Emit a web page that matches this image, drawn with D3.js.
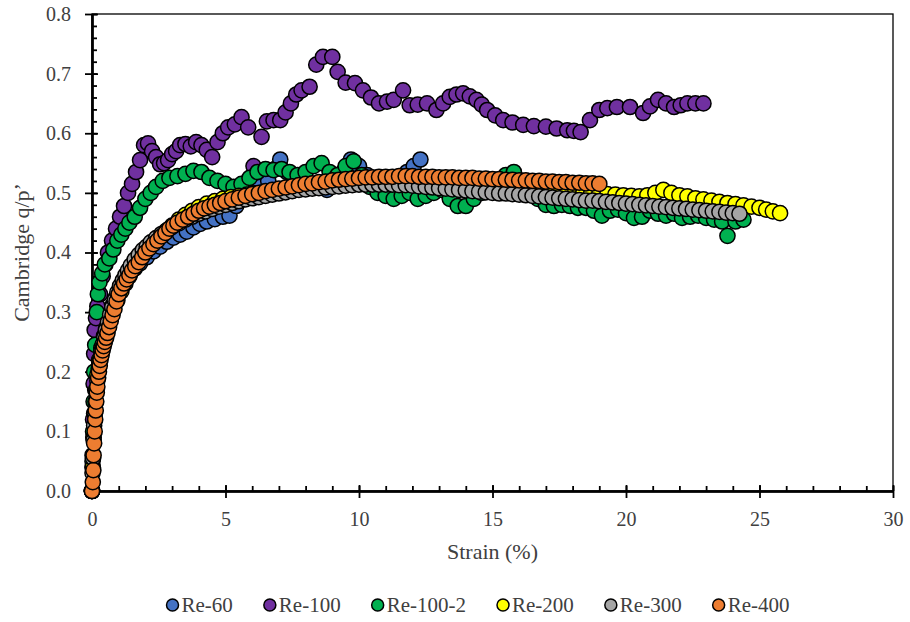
<!DOCTYPE html>
<html>
<head>
<meta charset="utf-8">
<script src="https://cdn.jsdelivr.net/npm/d3@7"></script>
<style>
  body { margin: 0; background: #fff; }
  svg { display: block; }
</style>
</head>
<body>
<svg id="chart" width="910" height="622"></svg>
<script>
// strain (%), Cambridge q/p'
const re60 = [[0,0],[0.02,0.04],[0.05,0.09],[0.08,0.13],[0.12,0.17],[0.17,0.2],[0.23,0.225],[0.3,0.245],[0.4,0.265],[0.5,0.28],[0.62,0.295],[0.75,0.31],[0.9,0.325],[1.05,0.338],[1.2,0.35],[1.4,0.362],[1.6,0.373],[1.8,0.382],[2.05,0.392],[2.3,0.402],[2.55,0.41],[2.8,0.418],[3.05,0.425],[3.3,0.43],[3.55,0.435],[3.8,0.442],[4.05,0.448],[4.3,0.452],[4.6,0.456],[4.9,0.46],[5.15,0.462],[5.4,0.478],[5.7,0.49],[6.0,0.5],[6.3,0.51],[6.6,0.52],[6.85,0.54],[7.05,0.556],[7.3,0.535],[7.6,0.525],[7.9,0.52],[8.2,0.515],[8.5,0.51],[8.8,0.505],[9.1,0.515],[9.4,0.535],[9.7,0.556],[10.0,0.545],[10.3,0.53],[10.6,0.52],[10.9,0.515],[11.2,0.518],[11.5,0.525],[11.8,0.535],[12.05,0.545],[12.3,0.556]];

const re100 = [[0,0],[0.02,0.06],[0.04,0.12],[0.06,0.18],[0.08,0.23],[0.1,0.27],[0.15,0.29],[0.2,0.31],[0.3,0.33],[0.4,0.36],[0.5,0.38],[0.6,0.4],[0.75,0.42],[0.9,0.44],[1.05,0.46],[1.2,0.478],[1.35,0.5],[1.5,0.515],[1.65,0.535],[1.8,0.555],[1.95,0.58],[2.1,0.583],[2.25,0.57],[2.4,0.56],[2.55,0.548],[2.7,0.55],[2.85,0.555],[3.0,0.565],[3.15,0.57],[3.3,0.58],[3.5,0.582],[3.7,0.578],[3.9,0.585],[4.1,0.58],[4.3,0.572],[4.5,0.56],[4.7,0.585],[4.9,0.6],[5.1,0.61],[5.35,0.615],[5.6,0.627],[5.85,0.61],[6.05,0.545],[6.35,0.594],[6.55,0.62],[6.8,0.622],[7.05,0.622],[7.25,0.635],[7.45,0.65],[7.65,0.665],[7.85,0.672],[8.15,0.678],[8.4,0.715],[8.65,0.728],[9.0,0.728],[9.2,0.703],[9.5,0.685],[9.85,0.684],[10.15,0.672],[10.45,0.66],[10.75,0.65],[11.05,0.653],[11.3,0.656],[11.65,0.672],[11.9,0.647],[12.2,0.648],[12.55,0.65],[12.9,0.639],[13.15,0.65],[13.4,0.661],[13.65,0.665],[13.9,0.667],[14.15,0.662],[14.4,0.656],[14.6,0.648],[14.8,0.639],[15.1,0.63],[15.4,0.622],[15.75,0.618],[16.15,0.614],[16.55,0.612],[17.0,0.611],[17.4,0.608],[17.8,0.605],[18.05,0.604],[18.3,0.602],[18.65,0.622],[19.0,0.639],[19.3,0.642],[19.66,0.644],[20.15,0.644],[20.64,0.634],[20.9,0.645],[21.2,0.656],[21.5,0.65],[21.8,0.644],[22.05,0.647],[22.3,0.65],[22.6,0.65],[22.9,0.65]];

const re100b = [[0,0],[0.02,0.05],[0.04,0.1],[0.06,0.15],[0.08,0.2],[0.12,0.245],[0.18,0.3],[0.22,0.33],[0.28,0.35],[0.38,0.365],[0.48,0.38],[0.65,0.39],[0.8,0.405],[0.95,0.42],[1.1,0.43],[1.25,0.44],[1.4,0.45],[1.6,0.46],[1.8,0.475],[2.0,0.49],[2.2,0.5],[2.4,0.51],[2.65,0.52],[2.9,0.525],[3.2,0.528],[3.5,0.532],[3.8,0.537],[4.1,0.535],[4.4,0.525],[4.7,0.52],[5.0,0.515],[5.3,0.51],[5.6,0.515],[5.9,0.525],[6.2,0.535],[6.5,0.54],[6.8,0.538],[7.1,0.54],[7.4,0.535],[7.7,0.53],[8.0,0.535],[8.3,0.545],[8.6,0.55],[8.9,0.535],[9.2,0.53],[9.5,0.545],[9.8,0.553],[10.1,0.53],[10.4,0.51],[10.7,0.5],[11.0,0.495],[11.3,0.49],[11.6,0.495],[11.9,0.5],[12.2,0.49],[12.5,0.495],[12.8,0.5],[13.1,0.505],[13.4,0.49],[13.7,0.478],[14.0,0.478],[14.3,0.49],[14.6,0.5],[14.9,0.51],[15.2,0.52],[15.5,0.53],[15.8,0.535],[16.1,0.52],[16.4,0.5],[16.7,0.49],[17.0,0.48],[17.3,0.478],[17.6,0.48],[17.9,0.478],[18.2,0.475],[18.5,0.475],[18.8,0.47],[19.1,0.462],[19.4,0.47],[19.7,0.472],[20.0,0.466],[20.3,0.458],[20.6,0.46],[20.9,0.47],[21.2,0.465],[21.5,0.462],[21.8,0.465],[22.1,0.458],[22.4,0.46],[22.7,0.462],[23.0,0.458],[23.3,0.455],[23.6,0.452],[23.8,0.428],[24.1,0.452],[24.4,0.455]];

const re200 = [[0,0],[0.03,0.04],[0.06,0.09],[0.1,0.13],[0.15,0.17],[0.2,0.195],[0.27,0.22],[0.35,0.24],[0.45,0.26],[0.55,0.275],[0.67,0.29],[0.8,0.305],[0.95,0.32],[1.1,0.335],[1.25,0.348],[1.4,0.36],[1.6,0.375],[1.8,0.388],[2.0,0.4],[2.25,0.413],[2.5,0.425],[2.75,0.435],[3.0,0.445],[3.25,0.455],[3.5,0.463],[3.75,0.47],[4.0,0.476],[4.3,0.482],[4.6,0.486],[4.9,0.49],[5.2,0.493],[5.5,0.495],[5.8,0.497],[6.1,0.499],[6.4,0.501],[6.7,0.503],[7.0,0.505],[7.3,0.507],[7.6,0.508],[7.9,0.51],[8.2,0.511],[8.5,0.512],[8.8,0.513],[9.1,0.514],[9.4,0.515],[9.7,0.515],[10.0,0.516],[10.3,0.516],[10.6,0.516],[10.9,0.516],[11.2,0.515],[11.5,0.515],[11.8,0.514],[12.1,0.513],[12.4,0.513],[12.7,0.512],[13.0,0.511],[13.3,0.51],[13.6,0.51],[13.9,0.509],[14.2,0.508],[14.5,0.508],[14.8,0.507],[15.1,0.506],[15.4,0.506],[15.7,0.505],[16.0,0.505],[16.3,0.504],[16.6,0.504],[16.9,0.503],[17.2,0.503],[17.5,0.502],[17.8,0.502],[18.1,0.501],[18.4,0.5],[18.7,0.5],[19.0,0.499],[19.3,0.498],[19.6,0.497],[19.9,0.496],[20.2,0.495],[20.5,0.494],[20.8,0.496],[21.1,0.5],[21.4,0.505],[21.7,0.5],[22.0,0.496],[22.3,0.494],[22.6,0.491],[22.9,0.489],[23.2,0.487],[23.5,0.485],[23.8,0.483],[24.1,0.481],[24.4,0.479],[24.7,0.477],[25.0,0.475],[25.25,0.472],[25.5,0.469],[25.77,0.466]];

const re300 = [[0,0],[0.02,0.03],[0.04,0.055],[0.06,0.085],[0.08,0.11],[0.1,0.13],[0.13,0.15],[0.16,0.168],[0.2,0.185],[0.25,0.205],[0.3,0.222],[0.35,0.235],[0.4,0.246],[0.46,0.258],[0.52,0.27],[0.6,0.283],[0.68,0.296],[0.76,0.308],[0.85,0.32],[0.95,0.333],[1.05,0.344],[1.15,0.353],[1.25,0.362],[1.35,0.37],[1.45,0.378],[1.6,0.388],[1.75,0.396],[1.9,0.404],[2.05,0.41],[2.2,0.417],[2.4,0.424],[2.6,0.431],[2.8,0.437],[3.0,0.443],[3.25,0.449],[3.5,0.455],[3.75,0.46],[4.0,0.465],[4.25,0.469],[4.5,0.473],[4.75,0.477],[5.0,0.48],[5.25,0.483],[5.5,0.486],[5.75,0.489],[6.0,0.491],[6.25,0.493],[6.5,0.495],[6.75,0.497],[7.0,0.499],[7.25,0.501],[7.5,0.503],[7.75,0.505],[8.0,0.506],[8.25,0.507],[8.5,0.508],[8.75,0.509],[9.0,0.51],[9.25,0.511],[9.5,0.512],[9.75,0.513],[10.0,0.514],[10.25,0.514],[10.5,0.514],[10.75,0.514],[11.0,0.514],[11.25,0.514],[11.5,0.513],[11.75,0.513],[12.0,0.512],[12.25,0.511],[12.5,0.51],[12.75,0.509],[13.0,0.508],[13.25,0.507],[13.5,0.506],[13.75,0.505],[14.0,0.504],[14.25,0.503],[14.5,0.502],[14.75,0.501],[15.0,0.5],[15.25,0.499],[15.5,0.499],[15.75,0.498],[16.0,0.497],[16.25,0.496],[16.5,0.495],[16.75,0.494],[17.0,0.493],[17.25,0.492],[17.5,0.491],[17.75,0.49],[18.0,0.489],[18.25,0.488],[18.5,0.487],[18.75,0.487],[19.0,0.486],[19.25,0.485],[19.5,0.484],[19.75,0.483],[20.0,0.482],[20.25,0.481],[20.5,0.48],[20.75,0.479],[21.0,0.478],[21.25,0.477],[21.5,0.476],[21.75,0.475],[22.0,0.474],[22.25,0.473],[22.5,0.472],[22.75,0.471],[23.0,0.47],[23.25,0.469],[23.5,0.468],[23.75,0.467],[24.0,0.466],[24.25,0.465]];

const re400 = [[0,0],[0.03,0.015],[0.05,0.035],[0.06,0.06],[0.08,0.08],[0.1,0.1],[0.12,0.12],[0.14,0.135],[0.16,0.15],[0.18,0.165],[0.2,0.175],[0.23,0.19],[0.26,0.2],[0.29,0.21],[0.32,0.22],[0.36,0.228],[0.4,0.236],[0.44,0.243],[0.48,0.25],[0.53,0.257],[0.58,0.265],[0.64,0.275],[0.7,0.285],[0.77,0.295],[0.84,0.305],[0.92,0.318],[1.0,0.33],[1.1,0.34],[1.2,0.348],[1.3,0.355],[1.4,0.362],[1.5,0.37],[1.62,0.377],[1.75,0.384],[1.88,0.392],[2.0,0.4],[2.15,0.407],[2.3,0.414],[2.45,0.42],[2.6,0.427],[2.75,0.433],[2.9,0.44],[3.05,0.445],[3.2,0.45],[3.4,0.455],[3.6,0.46],[3.8,0.465],[4.0,0.47],[4.2,0.474],[4.4,0.477],[4.6,0.48],[4.8,0.483],[5.0,0.486],[5.25,0.489],[5.5,0.492],[5.75,0.495],[6.0,0.498],[6.25,0.5],[6.5,0.503],[6.75,0.505],[7.0,0.507],[7.25,0.509],[7.5,0.511],[7.75,0.513],[8.0,0.515],[8.25,0.516],[8.5,0.518],[8.75,0.519],[9.0,0.521],[9.25,0.522],[9.5,0.523],[9.75,0.524],[10.0,0.525],[10.25,0.526],[10.5,0.526],[10.75,0.527],[11.0,0.527],[11.25,0.527],[11.5,0.528],[11.75,0.528],[12.0,0.528],[12.25,0.527],[12.5,0.527],[12.75,0.527],[13.0,0.526],[13.25,0.526],[13.5,0.526],[13.75,0.525],[14.0,0.525],[14.25,0.525],[14.5,0.524],[14.75,0.524],[15.0,0.523],[15.25,0.523],[15.5,0.522],[15.75,0.522],[16.0,0.521],[16.25,0.521],[16.5,0.52],[16.75,0.52],[17.0,0.519],[17.25,0.519],[17.5,0.518],[17.75,0.518],[18.0,0.517],[18.25,0.517],[18.5,0.516],[18.75,0.516],[19.0,0.515]];

const seriesNames = ['Re-60', 'Re-100', 'Re-100-2', 'Re-200', 'Re-300', 'Re-400'];
const seriesColors = ['#4472C4', '#7030A0', '#00B050', '#FFFF00', '#A5A5A5', '#ED7D31'];
const seriesData = [re60, re100, re100b, re200, re300, re400];

const xTicks = [0, 5, 10, 15, 20, 25, 30];
const yTicks = [0, 0.1, 0.2, 0.3, 0.4, 0.5, 0.6, 0.7, 0.8];

// no serif face is available offline, Lato is the lightest stand-in for Garamond
const FONT = '"Liberation Serif", "DejaVu Serif", Lato, sans-serif';
const TEXT_COLOR = '#404040';
const svg = d3.select('#chart');
const plotLeft = 92, plotRight = 893, plotTop = 14, plotBottom = 491;

const x = d3.scaleLinear().domain([0, 30]).range([plotLeft, plotRight]);
const y = d3.scaleLinear().domain([0, 0.8]).range([plotBottom, plotTop]);

// frame
svg.append('rect')
	.attr('x', plotLeft).attr('y', plotTop)
	.attr('width', plotRight - plotLeft).attr('height', plotBottom - plotTop)
	.attr('fill', 'none').attr('stroke', '#000').attr('stroke-width', 1.3);

// y axis: major ticks outside with labels, major+minor inside
svg.append('g').attr('transform', `translate(${plotLeft},0)`)
	.call(d3.axisLeft(y).tickValues(yTicks).tickFormat(d3.format('.1f')).tickSizeInner(7).tickSizeOuter(0).tickPadding(14));
svg.append('g').attr('transform', `translate(${plotLeft},0)`)
	.call(d3.axisRight(y).tickValues(yTicks).tickFormat('').tickSizeInner(6).tickSizeOuter(0));
svg.append('g').attr('transform', `translate(${plotLeft},0)`)
	.call(d3.axisRight(y).tickValues(d3.range(0, 0.801, 0.02)).tickFormat('').tickSizeInner(5).tickSizeOuter(0));

// x axis
svg.append('g').attr('transform', `translate(0,${plotBottom})`)
	.call(d3.axisBottom(x).tickValues(xTicks).tickFormat(d3.format('d')).tickSizeInner(7).tickSizeOuter(0).tickPadding(14));
svg.append('g').attr('transform', `translate(0,${plotBottom})`)
	.call(d3.axisTop(x).tickValues(xTicks).tickFormat('').tickSizeInner(6).tickSizeOuter(0));
svg.append('g').attr('transform', `translate(0,${plotBottom})`)
	.call(d3.axisTop(x).tickValues(d3.range(0, 31, 1)).tickFormat('').tickSizeInner(5).tickSizeOuter(0));

svg.selectAll('g').attr('font-family', FONT);
svg.selectAll('.domain').attr('stroke', '#000').attr('stroke-width', 2);
svg.selectAll('.tick line').attr('stroke', '#000').attr('stroke-width', 1.8);
svg.selectAll('.tick text')
	.attr('font-family', FONT)
	.attr('font-size', 20)
	.attr('fill', TEXT_COLOR);

// axis titles
svg.append('text')
	.attr('x', (plotLeft + plotRight) / 2).attr('y', 559)
	.attr('text-anchor', 'middle')
	.attr('font-family', FONT)
	.attr('font-size', 22)
	.attr('fill', TEXT_COLOR)
	.text('Strain (%)');

svg.append('text')
	.attr('transform', `translate(29,${(plotTop + plotBottom) / 2}) rotate(-90)`)
	.attr('text-anchor', 'middle')
	.attr('font-family', FONT)
	.attr('font-size', 22)
	.attr('fill', TEXT_COLOR)
	.text('Cambridge q/p\u2019');

// markers, drawn in legend order so Re-400 ends on top
seriesData.forEach((data, i) => {
	svg.append('g')
		.selectAll('circle')
		.data(data)
		.enter()
		.append('circle')
		.attr('cx', d => x(d[0]))
		.attr('cy', d => y(d[1]))
		.attr('r', 7.6)
		.attr('fill', seriesColors[i])
		.attr('stroke', '#000')
		.attr('stroke-width', 1.5);
});

// legend
const legend = svg.append('g');
let cx = 0;
seriesNames.forEach((name, i) => {
	const item = legend.append('g').attr('transform', `translate(${cx},0)`);
	item.append('circle')
		.attr('r', 6).attr('fill', seriesColors[i])
		.attr('stroke', '#000').attr('stroke-width', 1.5);
	const t = item.append('text')
		.attr('x', 9).attr('dy', '0.35em')
		.attr('font-family', FONT)
		.attr('font-size', 21)
		.attr('fill', TEXT_COLOR)
		.text(name);
	cx += 9 + t.node().getComputedTextLength() + 37;
});
const legendWidth = cx - 37 + 6;
legend.attr('transform', `translate(${478 - legendWidth / 2 + 6},605)`);
</script>
</body>
</html>
